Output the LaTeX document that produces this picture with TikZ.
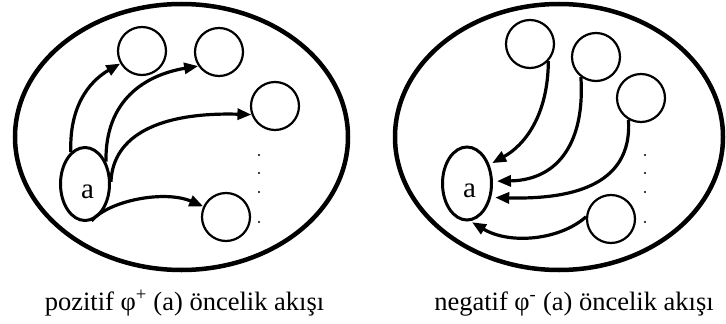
\documentclass[tikz,border=0pt]{standalone}
\usepackage{fontspec}
\setmainfont{Liberation Serif}
\usetikzlibrary{arrows.meta,shapes.geometric}
\begin{document}
\begin{tikzpicture}[x=1pt,y=-1pt,
  outer/.style={draw, ellipse, line width=4.5pt, inner sep=0pt},
  vtx/.style={draw, circle, line width=2.2pt, minimum size=48pt, inner sep=0pt},
  src/.style={draw, ellipse, line width=3pt, minimum width=49pt, minimum height=73pt,
    inner sep=0pt, font=\fontsize{29}{29}\selectfont, text height=28pt, text depth=0pt},
  flow/.style={line width=3.2pt, -{Triangle[length=14pt,width=11pt]}},
  dotmark/.style={circle, fill=black, inner sep=0pt, minimum size=2.4pt},
  lbl/.style={font=\fontsize{26.5}{30}\selectfont, inner sep=0pt}]
\useasboundingbox (0,0) rectangle (726,324);

% ---------- left: positive flow ----------
\node[outer, minimum width=333pt, minimum height=266pt] (L) at (181.5,137) {};
\node[src] (La) at (85,184) {\hspace*{5pt}a};
\node[vtx] (L1) at (142,51) {};
\node[vtx] (L2) at (219,52) {};
\node[vtx] (L3) at (275,106) {};
\node[vtx] (L4) at (226,217) {};
\foreach \yy [count=\i] in {155,173,192,222} \node[dotmark] (Ld\i) at (259,\yy) {};

\draw[flow] (La.114) .. controls (69,100) and (95,78) .. (L1.210);
\draw[flow] (La.47) .. controls (105,100) and (145,75) .. (L2.214);
\draw[flow] (La.5) .. controls (113,135) and (160,112) .. (L3.200);
\draw[flow] (La.-80) .. controls (110,200) and (165,190) .. (L4.155);

% ---------- right: negative flow ----------
\node[outer, minimum width=328pt, minimum height=266pt] (R) at (559,137) {};
\node[src] (Ra) at (467,183.5) {\hspace*{5pt}a};
\node[vtx] (R1) at (530,44) {};
\node[vtx] (R2) at (596,57) {};
\node[vtx] (R3) at (641,98) {};
\node[vtx] (R4) at (611,219) {};
\foreach \yy [count=\i] in {155,173,192,222} \node[dotmark] (Rd\i) at (645,\yy) {};

\draw[flow, shorten >=3pt] (R1.-43) .. controls (548,115) and (525,145) .. (Ra.40);
\draw[flow, shorten >=4pt] (R2.233) .. controls (585,140) and (560,180) .. (Ra.5);
\draw[flow, shorten >=4pt] (R3.240) .. controls (632,175) and (590,200) .. (Ra.-30);
\draw[flow, shorten >=2pt] (R4.175) .. controls (560,240) and (510,245) .. (Ra.-85);

% ---------- captions ----------
\node[lbl, anchor=base] (capL) at (184.5,310) {pozitif φ\textsuperscript{+} (a) öncelik akışı};
\node[lbl, anchor=base] (capR) at (574,310) {negatif φ\textsuperscript{-} (a) öncelik akışı};
\end{tikzpicture}
\end{document}
